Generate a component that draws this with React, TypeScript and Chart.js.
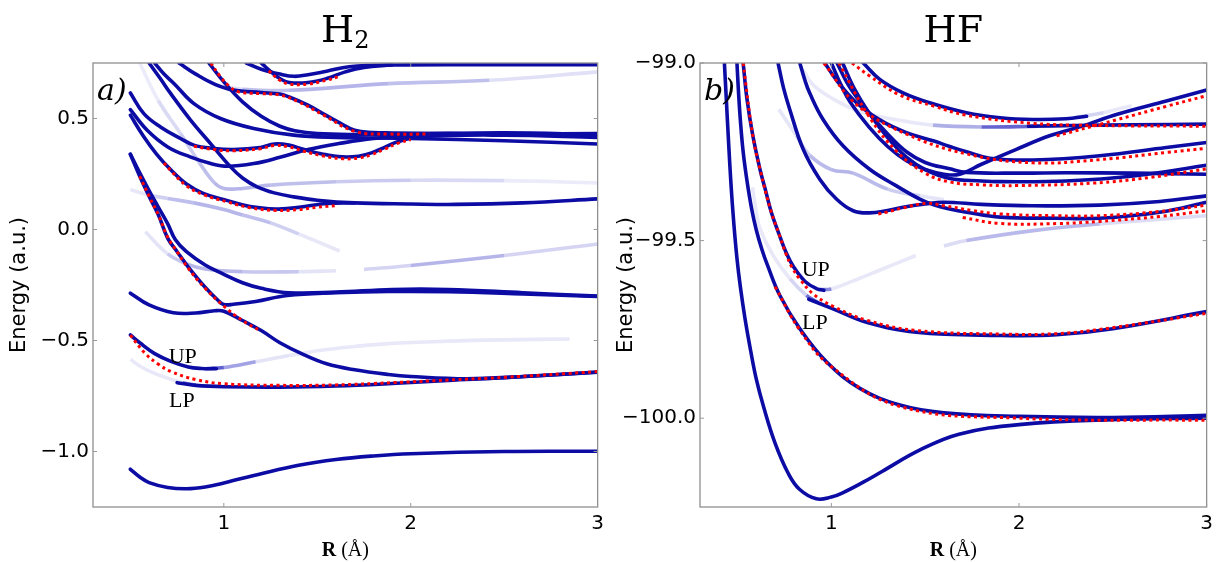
import React, { useEffect, useRef } from 'react';
import { Chart, registerables } from 'chart.js';

Chart.register(...registerables);

type Pt = [number, number];

// ---------------- H2 panel data ----------------
const h2XTicks = [1, 2, 3];
const h2YTicks = [-1.0, -0.5, 0.0, 0.5];

const h2Ground: Pt[] = [[0.5, -1.08], [0.55, -1.115], [0.6, -1.14], [0.7, -1.162], [0.8, -1.168], [0.9, -1.16], [1.0, -1.142], [1.2, -1.1], [1.4, -1.062], [1.6, -1.036], [1.8, -1.02], [2.0, -1.01], [2.5, -1.0], [3.0, -0.999]];
const h2LP: Pt[] = [[0.75, -0.69], [0.85, -0.702], [1.0, -0.708], [1.3, -0.71], [1.6, -0.705], [1.9, -0.694], [2.2, -0.68], [2.5, -0.668], [3.0, -0.642]];
const h2UP: Pt[] = [[0.5, -0.475], [0.55, -0.51], [0.63, -0.559], [0.72, -0.595], [0.81, -0.619], [0.88, -0.626], [0.96, -0.627]];
const h2C3: Pt[] = [[0.5, -0.287], [0.6, -0.34], [0.73, -0.375], [0.85, -0.376], [0.95, -0.366], [1.0, -0.368], [1.1, -0.41], [1.2, -0.455], [1.3, -0.51], [1.43, -0.565], [1.55, -0.605], [1.7, -0.632], [1.88, -0.653], [2.0, -0.662], [2.3, -0.672], [2.6, -0.662], [3.0, -0.643]];
const h2C4a: Pt[] = [[0.5, 0.339], [0.55, 0.24], [0.6, 0.15], [0.65, 0.065], [0.7, -0.04], [0.75, -0.1], [0.81, -0.169], [0.9, -0.26], [0.97, -0.32], [1.0, -0.338], [1.05, -0.337], [1.17, -0.324], [1.34, -0.297], [1.6, -0.285], [1.88, -0.279], [2.2, -0.28], [2.6, -0.29], [3.0, -0.302]];
const h2C4b: Pt[] = [[0.5, 0.339], [0.55, 0.255], [0.6, 0.175], [0.65, 0.1], [0.7, 0.025], [0.74, -0.045], [0.8, -0.1], [0.9, -0.16], [0.99, -0.198], [1.1, -0.24], [1.2, -0.265], [1.35, -0.285], [1.6, -0.282], [1.9, -0.27], [2.2, -0.27], [2.6, -0.285], [3.0, -0.3]];
const h2LineA: Pt[] = [[0.6, 0.75], [0.66, 0.68], [0.715, 0.613], [0.822, 0.493], [0.929, 0.387], [1.036, 0.282], [1.1, 0.232], [1.178, 0.192], [1.27, 0.165], [1.374, 0.147], [1.5, 0.132], [1.7, 0.12], [2.0, 0.115], [2.24, 0.113], [2.6, 0.12], [3.0, 0.138]];
const h2LineB: Pt[] = [[0.63, 0.75], [0.68, 0.7], [0.733, 0.658], [0.84, 0.567], [0.982, 0.5], [1.16, 0.455], [1.374, 0.425], [1.6, 0.415], [2.0, 0.41], [2.5, 0.4], [3.0, 0.385]];
const h2La: Pt[] = [[0.5, 0.615], [0.572, 0.522], [0.661, 0.462], [0.768, 0.41], [0.84, 0.38], [0.947, 0.365], [1.053, 0.36], [1.196, 0.369], [1.27, 0.385], [1.348, 0.38], [1.43, 0.36], [1.526, 0.34], [1.633, 0.327], [1.72, 0.33], [1.79, 0.345], [1.86, 0.37], [1.93, 0.395], [2.05, 0.418], [2.5, 0.425], [3.0, 0.415]];
const h2Lb: Pt[] = [[0.5, 0.54], [0.59, 0.447], [0.7, 0.372], [0.82, 0.327], [0.93, 0.297], [1.02, 0.285], [1.16, 0.297], [1.3, 0.325], [1.45, 0.36], [1.615, 0.387], [1.8, 0.41], [2.0, 0.42], [2.5, 0.43], [3.0, 0.425]];
const h2Lc: Pt[] = [[0.5, 0.515], [0.57, 0.42], [0.64, 0.34], [0.715, 0.27], [0.8, 0.205], [0.89, 0.163], [1.02, 0.13], [1.14, 0.104], [1.28, 0.092], [1.35, 0.095], [1.45, 0.106], [1.55, 0.117], [1.7, 0.12]];
const h2T1: Pt[] = [[1.12, 0.75], [1.2, 0.722], [1.3, 0.7], [1.376, 0.69], [1.45, 0.697], [1.55, 0.713], [1.67, 0.733], [1.9, 0.741], [2.5, 0.742], [3.0, 0.742]];
const h2T2: Pt[] = [[1.2, 0.75], [1.26, 0.705], [1.3, 0.68], [1.35, 0.662], [1.45, 0.662], [1.55, 0.68], [1.65, 0.71], [1.75, 0.73], [1.9, 0.741]];
const h2T3: Pt[] = [[0.76, 0.75], [0.85, 0.7], [0.95, 0.655], [1.05, 0.628], [1.2, 0.617], [1.3, 0.61], [1.35, 0.597], [1.45, 0.56], [1.53, 0.522], [1.62, 0.48], [1.7, 0.447], [1.8, 0.437], [1.9, 0.435], [2.2, 0.432], [2.6, 0.43], [3.0, 0.432]];
const h2T4: Pt[] = [[0.92, 0.75], [1.0, 0.665], [1.1, 0.575], [1.2, 0.51], [1.3, 0.465], [1.38, 0.445], [1.5, 0.432], [1.7, 0.428], [2.0, 0.43], [2.5, 0.436], [3.0, 0.428]];

const h2LPred: Pt[] = [[0.5, -0.476], [0.58, -0.559], [0.65, -0.607], [0.72, -0.641], [0.85, -0.676], [1.0, -0.695], [1.3, -0.702], [1.6, -0.7], [1.9, -0.69], [2.2, -0.678], [2.5, -0.666], [3.0, -0.64]];
const h2C4red: Pt[] = [[0.55, 0.24], [0.6, 0.15], [0.65, 0.065], [0.7, -0.035], [0.75, -0.1], [0.81, -0.175], [0.9, -0.265], [1.0, -0.345], [1.1, -0.41], [1.2, -0.458]];
const h2LaRed: Pt[] = [[0.84, 0.375], [0.947, 0.36], [1.053, 0.355], [1.196, 0.364], [1.27, 0.378], [1.348, 0.372], [1.43, 0.352], [1.526, 0.332], [1.633, 0.319], [1.72, 0.322], [1.79, 0.337], [1.86, 0.362], [1.93, 0.388], [2.0, 0.405]];
const h2LcRed: Pt[] = [[0.68, 0.3], [0.72, 0.262], [0.8, 0.197], [0.89, 0.157], [1.02, 0.124], [1.14, 0.098], [1.28, 0.086], [1.4, 0.09], [1.5, 0.1], [1.6, 0.108]];
const h2T2red: Pt[] = [[1.24, 0.715], [1.3, 0.672], [1.35, 0.655], [1.45, 0.655], [1.55, 0.673], [1.62, 0.69]];
const h2T3red: Pt[] = [[0.93, 0.75], [0.98, 0.69], [1.03, 0.645], [1.08, 0.62], [1.2, 0.612], [1.3, 0.606], [1.4, 0.575], [1.53, 0.517], [1.7, 0.442], [1.88, 0.43], [2.1, 0.43]];

const h2LPfaint: Pt[] = [[0.5, -0.585], [0.55, -0.615], [0.62, -0.645], [0.7, -0.67], [0.78, -0.69], [0.85, -0.7]];
const h2UPfaint: Pt[] = [[0.9, -0.627], [1.0, -0.622], [1.17, -0.596], [1.35, -0.568], [1.52, -0.544], [1.7, -0.527], [1.88, -0.514], [2.2, -0.503], [2.5, -0.497], [2.85, -0.493]];
const h2F1: Pt[] = [[0.5, 0.18], [0.6, 0.155], [0.7, 0.14], [0.84, 0.12], [1.0, 0.09], [1.1, 0.065], [1.25, 0.03], [1.4, -0.02], [1.62, -0.097]];
const h2F2: Pt[] = [[0.55, 0.75], [0.65, 0.58], [0.77, 0.43], [0.87, 0.3], [0.95, 0.21], [1.0, 0.185], [1.1, 0.185], [1.25, 0.2], [1.6, 0.215], [2.0, 0.222], [2.5, 0.22], [3.0, 0.21]];
const h2F3: Pt[] = [[0.58, -0.01], [0.7, -0.11], [0.8, -0.155], [0.9, -0.178], [1.1, -0.19], [1.4, -0.19], [1.6, -0.186]];
const h2F3b: Pt[] = [[1.75, -0.18], [2.0, -0.162], [2.5, -0.117], [3.0, -0.065]];
const h2F4: Pt[] = [[0.95, 0.65], [1.1, 0.632], [1.35, 0.627], [1.88, 0.657], [2.42, 0.672], [3.0, 0.71]];

// ---------------- HF panel data ----------------
const hfXTicks = [1, 2, 3];
const hfYTicks = [-100.0, -99.5, -99.0];

const hfGround: Pt[] = [[0.43, -99.0], [0.44, -99.1], [0.452, -99.22], [0.465, -99.34], [0.48, -99.45], [0.497, -99.55], [0.515, -99.63], [0.54, -99.72], [0.57, -99.81], [0.6, -99.89], [0.64, -99.97], [0.7, -100.07], [0.77, -100.155], [0.83, -100.2], [0.92, -100.227], [1.0, -100.222], [1.06, -100.21], [1.17, -100.18], [1.27, -100.15], [1.47, -100.09], [1.68, -100.045], [2.0, -100.018], [2.5, -100.004], [3.0, -100.0]];
const hfR2: Pt[] = [[0.497, -99.0], [0.505, -99.08], [0.515, -99.16], [0.53, -99.25], [0.55, -99.33], [0.575, -99.41], [0.6, -99.47], [0.63, -99.525], [0.66, -99.57], [0.725, -99.654], [0.832, -99.748], [0.974, -99.841], [1.152, -99.916], [1.365, -99.963], [1.6, -99.985], [2.0, -99.995], [2.5, -99.998], [3.0, -99.992]];
const hfUP: Pt[] = [[0.53, -99.0], [0.55, -99.1], [0.58, -99.2], [0.62, -99.3], [0.65, -99.36], [0.68, -99.42], [0.72, -99.48], [0.76, -99.535], [0.8, -99.575], [0.86, -99.615], [0.92, -99.635], [0.96, -99.64]];
const hfLP: Pt[] = [[0.88, -99.665], [1.009, -99.692], [1.187, -99.73], [1.452, -99.758], [1.9, -99.767], [2.2, -99.765], [2.5, -99.748], [3.0, -99.7]];
const hfG1: Pt[] = [[0.716, -99.0], [0.745, -99.07], [0.778, -99.13], [0.85, -99.243], [0.938, -99.327], [1.027, -99.383], [1.116, -99.416], [1.204, -99.422], [1.293, -99.416], [1.382, -99.406], [1.5, -99.397], [1.6, -99.392], [1.8, -99.398], [2.07, -99.402], [2.43, -99.4], [2.75, -99.39], [3.0, -99.374]];
const hfBb: Pt[] = [[0.832, -99.0], [0.86, -99.05], [0.884, -99.084], [0.956, -99.159], [1.062, -99.233], [1.204, -99.299], [1.347, -99.346], [1.471, -99.383], [1.55, -99.4], [1.631, -99.411], [1.72, -99.42], [1.9, -99.434], [2.2, -99.437], [2.43, -99.437], [2.75, -99.42], [3.0, -99.392]];
const hf18: Pt[] = [[2.05, -99.178], [2.3, -99.176], [2.6, -99.174], [3.0, -99.172]];
const hfTop: Pt[] = [[1.17, -99.0], [1.258, -99.046], [1.382, -99.084], [1.524, -99.112], [1.72, -99.14], [1.9, -99.154], [2.075, -99.159], [2.25, -99.157], [2.36, -99.15]];
const hfL3: Pt[] = [[0.965, -99.0], [1.03, -99.05], [1.134, -99.112], [1.258, -99.16], [1.4, -99.196], [1.542, -99.219], [1.631, -99.235], [1.72, -99.25], [1.844, -99.268], [2.075, -99.273], [2.43, -99.261], [2.785, -99.238], [3.0, -99.224]];
const hfRise: Pt[] = [[1.0, -99.0], [1.05, -99.06], [1.1, -99.11], [1.2, -99.18], [1.3, -99.235], [1.4, -99.275], [1.5, -99.3], [1.6, -99.313], [1.684, -99.313], [1.8, -99.285], [1.986, -99.243], [2.163, -99.205], [2.341, -99.177], [2.519, -99.145], [2.785, -99.107], [3.0, -99.076]];
const hfM1: Pt[] = [[1.03, -99.0], [1.1, -99.07], [1.2, -99.14], [1.3, -99.2], [1.4, -99.25], [1.5, -99.28], [1.631, -99.298], [1.72, -99.308], [2.0, -99.31], [2.25, -99.309], [2.6, -99.31], [3.0, -99.313]];
const hfM2: Pt[] = [[1.06, -99.0], [1.12, -99.07], [1.2, -99.14], [1.3, -99.21], [1.4, -99.265], [1.5, -99.3], [1.631, -99.325], [1.8, -99.332], [1.9, -99.334], [2.25, -99.332], [2.61, -99.318], [3.0, -99.288]];

const hfR2red: Pt[] = [[0.7, -99.63], [0.832, -99.752], [1.0, -99.855], [1.365, -99.967], [2.0, -100.0], [3.0, -100.006]];
const hfLPred: Pt[] = [[0.53, -99.0], [0.58, -99.2], [0.62, -99.3], [0.68, -99.42], [0.72, -99.48], [0.76, -99.54], [0.79, -99.575], [0.832, -99.608], [0.903, -99.65], [1.009, -99.685], [1.187, -99.724], [1.45, -99.753], [1.9, -99.763], [2.2, -99.762], [2.5, -99.745], [3.0, -99.705]];
const hfG1red: Pt[] = [[1.25, -99.425], [1.293, -99.42], [1.382, -99.408], [1.507, -99.395], [1.6, -99.402], [1.75, -99.415], [1.9, -99.425], [2.2, -99.43], [2.43, -99.43], [2.75, -99.418], [3.0, -99.4]];
const hfBbRed: Pt[] = [[1.7, -99.435], [1.9, -99.452], [2.2, -99.452], [2.43, -99.446], [2.75, -99.432], [3.0, -99.416]];
const hfTopRed: Pt[] = [[1.11, -99.0], [1.2, -99.035], [1.364, -99.09], [1.55, -99.122], [1.72, -99.147], [2.075, -99.17], [2.43, -99.176], [3.0, -99.178]];
const hfL3red: Pt[] = [[0.96, -99.0], [1.134, -99.117], [1.4, -99.2], [1.72, -99.256], [2.075, -99.281], [2.43, -99.272], [2.785, -99.252], [3.0, -99.24]];
const hfRiseRed: Pt[] = [[2.2, -99.205], [2.519, -99.16], [2.785, -99.122], [3.0, -99.092]];
const hfM2red: Pt[] = [[1.04, -99.0], [1.2, -99.15], [1.35, -99.25], [1.5, -99.31], [1.631, -99.335], [1.8, -99.343], [2.0, -99.345], [2.4, -99.338], [2.7, -99.322], [3.0, -99.298]];

const hfLPfaint: Pt[] = [[0.58, -99.35], [0.6, -99.42], [0.62, -99.467], [0.69, -99.542], [0.78, -99.608], [0.867, -99.654], [0.93, -99.675]];
const hfUPfaint: Pt[] = [[0.93, -99.638], [1.0, -99.636], [1.1, -99.617], [1.25, -99.585], [1.45, -99.542]];
const hfFa: Pt[] = [[0.85, -99.02], [0.9, -99.06], [0.974, -99.09], [1.116, -99.13], [1.25, -99.15], [1.382, -99.163], [1.542, -99.175], [1.8, -99.18], [2.1, -99.178]];
const hfFb: Pt[] = [[0.72, -99.13], [0.814, -99.205], [0.885, -99.26], [1.0, -99.3], [1.116, -99.31], [1.3, -99.355], [1.471, -99.374], [1.6, -99.385]];
const hfFlow: Pt[] = [[1.6, -99.515], [1.72, -99.5], [2.075, -99.472], [2.43, -99.453], [3.0, -99.43]];
const hfTopFaint: Pt[] = [[2.3, -99.153], [2.45, -99.14], [2.6, -99.12]];

// ---------------- styles ----------------
const BLUE = 'rgb(12,12,165)';
const RED = 'rgb(255,0,0)';
// fade profile of each faint line: 'in' (becomes solid), 'out' (leaves a solid line), 'mid'
const h2FaintFade = ['in', 'out', 'mid', 'mid', 'mid', 'mid', 'mid'];
const hfFaintFade = ['in', 'out', 'in', 'mid', 'mid', 'out'];

function toXY(c: Pt[]) {
  return c.map(([x, y]) => ({ x, y }));
}

function fadeAlpha(kind: string, t: number) {
  const c = Math.min(1, Math.max(0, t));
  if (kind === 'out') return 0.1 + 0.75 * Math.max(0, 1 - c * 3.5);
  if (kind === 'in') return 0.1 + 0.75 * Math.max(0, 1 - (1 - c) * 3.5);
  return 0.05 + 0.28 * Math.sin(Math.PI * c);
}

function buildDatasets(blue: Pt[][], red: Pt[][], faint: Pt[][], fades: string[]) {
  const ds: any[] = [];
  const common = { pointRadius: 0, pointHoverRadius: 0, clip: 0, tension: 0.4, fill: false };
  blue.forEach((c) => ds.push({ ...common, data: toXY(c), borderColor: BLUE, borderWidth: 3.6, borderCapStyle: 'round', order: 2 }));
  red.forEach((c) => ds.push({ ...common, data: toXY(c), borderColor: RED, borderWidth: 3, borderDash: [3, 3.5], order: 1 }));
  faint.forEach((c, i) => {
    const n = c.length;
    const kind = fades[i] || 'mid';
    ds.push({
      ...common,
      data: toXY(c),
      borderColor: 'rgba(40,40,200,0.2)',
      borderWidth: 3.6,
      order: 3,
      segment: {
        borderColor: (ctx: any) => {
          const t = (ctx.p0DataIndex + 0.5) / Math.max(1, n - 1);
          return `rgba(30,30,190,${fadeAlpha(kind, t).toFixed(3)})`;
        },
      },
    });
  });
  return ds;
}

const fmt = (v: number) => v.toFixed(1).replace('-', '\u2212');

const decoPlugin = {
  id: 'deco',
  afterDraw(chart: any, _args: any, opts: any) {
    const { ctx, chartArea: a, scales } = chart;
    ctx.save();
    ctx.strokeStyle = '#8f8f8f';
    ctx.lineWidth = 1.3;
    ctx.strokeRect(a.left, a.top, a.right - a.left, a.bottom - a.top);
    ctx.strokeStyle = '#9a9a9a';
    ctx.lineWidth = 1;
    (opts.xTicks || []).forEach((v: number) => {
      const px = scales.x.getPixelForValue(v);
      ctx.beginPath();
      ctx.moveTo(px, a.bottom); ctx.lineTo(px, a.bottom - 4);
      ctx.moveTo(px, a.top); ctx.lineTo(px, a.top + 4);
      ctx.stroke();
    });
    (opts.yTicks || []).forEach((v: number) => {
      const py = scales.y.getPixelForValue(v);
      ctx.beginPath();
      ctx.moveTo(a.left, py); ctx.lineTo(a.left + 4, py);
      ctx.moveTo(a.right, py); ctx.lineTo(a.right - 4, py);
      ctx.stroke();
    });
    ctx.fillStyle = '#000';
    const drawParts = (parts: any[], cx: number, baseY: number) => {
      let total = 0;
      parts.forEach((p) => { ctx.font = p.font; total += ctx.measureText(p.text).width; });
      let x = cx - total / 2;
      ctx.textAlign = 'left';
      ctx.textBaseline = 'alphabetic';
      parts.forEach((p) => {
        ctx.font = p.font;
        ctx.fillText(p.text, x, baseY + (p.dy || 0));
        x += ctx.measureText(p.text).width;
      });
    };
    const cx = (a.left + a.right) / 2;
    drawParts(opts.title, cx, 42);
    drawParts([
      { text: 'R', font: 'bold 20px "Liberation Serif", serif' },
      { text: ' (\u00C5)', font: '20px "Liberation Serif", serif' },
    ], cx, 556);
    ctx.save();
    ctx.translate(a.left - 73, 285);
    ctx.rotate(-Math.PI / 2);
    ctx.font = '21px "DejaVu Sans", sans-serif';
    ctx.textAlign = 'center';
    ctx.textBaseline = 'middle';
    ctx.fillText('Energy (a.u.)', 0, 0);
    ctx.restore();
    ctx.font = 'italic 30px "DejaVu Serif", serif';
    ctx.textAlign = 'left';
    ctx.textBaseline = 'alphabetic';
    ctx.fillText(opts.letter, a.left + 4, a.top + 37);
    ctx.font = '22px "Liberation Serif", serif';
    ctx.textAlign = 'center';
    ctx.textBaseline = 'middle';
    (opts.labels || []).forEach((l: any) => {
      ctx.fillText(l.text, scales.x.getPixelForValue(l.x), scales.y.getPixelForValue(l.y));
    });
    ctx.restore();
  },
};

type PanelProps = {
  left: number;
  width: number;
  yAxisWidth: number;
  padRight: number;
  yMin: number;
  yMax: number;
  xTicks: number[];
  yTicks: number[];
  blue: Pt[][];
  red: Pt[][];
  faint: Pt[][];
  fades: string[];
  title: any[];
  letter: string;
  labels: any[];
};

function Panel(p: PanelProps) {
  const ref = useRef<HTMLCanvasElement | null>(null);
  useEffect(() => {
    if (!ref.current) return;
    const chart = new Chart(ref.current, {
      type: 'line',
      data: { datasets: buildDatasets(p.blue, p.red, p.faint, p.fades) },
      plugins: [decoPlugin as any],
      options: {
        animation: false,
        responsive: false,
        devicePixelRatio: 1,
        events: [],
        layout: { padding: { top: 63, right: p.padRight, left: 0, bottom: 0 } },
        plugins: {
          legend: { display: false },
          tooltip: { enabled: false },
          title: { display: false },
          deco: { title: p.title, letter: p.letter, labels: p.labels, xTicks: p.xTicks, yTicks: p.yTicks },
        } as any,
        scales: {
          x: {
            type: 'linear',
            min: 0.3,
            max: 3,
            grid: { display: false, drawTicks: false },
            border: { display: false },
            afterBuildTicks: (s: any) => { s.ticks = p.xTicks.map((v) => ({ value: v })); },
            afterFit: (s: any) => { s.height = 55; },
            ticks: {
              padding: 5,
              maxRotation: 0,
              autoSkip: false,
              color: '#000',
              font: { family: '"DejaVu Sans", sans-serif', size: 20 },
              callback: (v: any) => String(v),
            },
          },
          y: {
            type: 'linear',
            min: p.yMin,
            max: p.yMax,
            grid: { display: false, drawTicks: false },
            border: { display: false },
            afterBuildTicks: (s: any) => { s.ticks = p.yTicks.map((v) => ({ value: v })); },
            afterFit: (s: any) => { s.width = p.yAxisWidth; },
            ticks: {
              padding: 4,
              autoSkip: false,
              color: '#000',
              font: { family: '"DejaVu Sans", sans-serif', size: 20 },
              callback: (v: any) => fmt(Number(v)),
            },
          },
        },
      } as any,
    });
    return () => chart.destroy();
  }, []);
  return (
    <canvas
      ref={ref}
      width={p.width}
      height={562}
      style={{ position: 'absolute', left: p.left, top: 0, width: p.width, height: 562 }}
    />
  );
}

export default function App() {
  return (
    <div style={{ background: '#fff' }}>
      <Panel
        left={0}
        width={609}
        yAxisWidth={93}
        padRight={10}
        yMin={-1.25}
        yMax={0.75}
        xTicks={h2XTicks}
        yTicks={h2YTicks}
        blue={[h2Ground, h2LP, h2UP, h2C3, h2C4a, h2C4b, h2LineA, h2LineB, h2La, h2Lb, h2Lc, h2T1, h2T2, h2T3, h2T4]}
        red={[h2LPred, h2C4red, h2LaRed, h2LcRed, h2T2red, h2T3red]}
        faint={[h2LPfaint, h2UPfaint, h2F1, h2F2, h2F3, h2F3b, h2F4]}
        fades={h2FaintFade}
        title={[
          { text: 'H', font: '38px "DejaVu Serif", serif' },
          { text: '2', font: '24px "DejaVu Serif", serif', dy: 6 },
        ]}
        letter="a)"
        labels={[
          { text: 'UP', x: 0.78, y: -0.575 },
          { text: 'LP', x: 0.775, y: -0.773 },
        ]}
      />
      <Panel
        left={609}
        width={609}
        yAxisWidth={91}
        padRight={11}
        yMin={-100.25}
        yMax={-99.0}
        xTicks={hfXTicks}
        yTicks={hfYTicks}
        blue={[hfGround, hfR2, hfUP, hfLP, hfG1, hfBb, hf18, hfTop, hfL3, hfRise, hfM1, hfM2]}
        red={[hfR2red, hfLPred, hfG1red, hfBbRed, hfTopRed, hfL3red, hfRiseRed, hfM2red]}
        faint={[hfLPfaint, hfUPfaint, hfFa, hfFb, hfFlow, hfTopFaint]}
        fades={hfFaintFade}
        title={[{ text: 'HF', font: '38px "DejaVu Serif", serif' }]}
        letter="b)"
        labels={[
          { text: 'UP', x: 0.917, y: -99.582 },
          { text: 'LP', x: 0.912, y: -99.733 },
        ]}
      />
    </div>
  );
}
